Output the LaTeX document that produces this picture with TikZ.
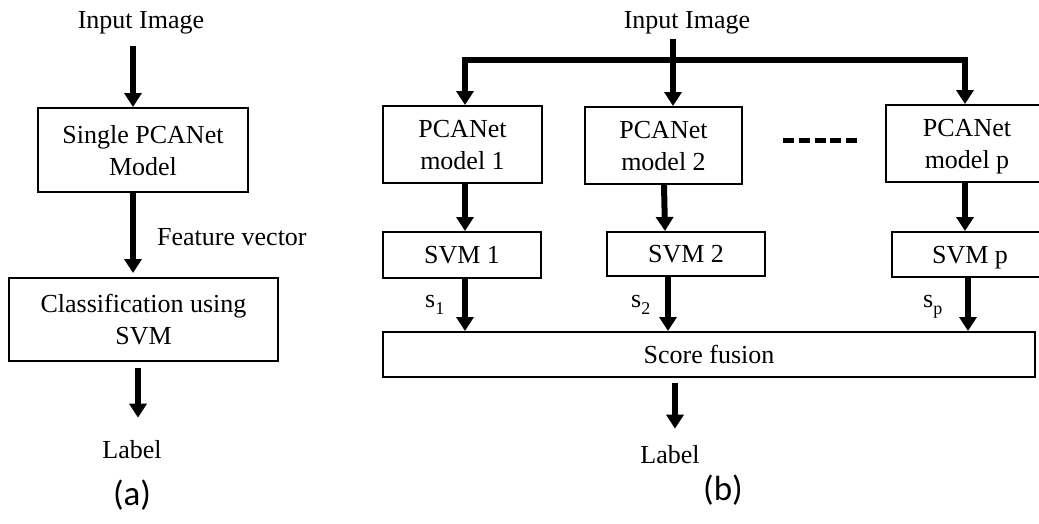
\documentclass[tikz,border=0pt]{standalone}
\usepackage{fontspec}
\setmainfont{Liberation Serif}
\newfontfamily\capfont{Carlito}
\usetikzlibrary{arrows.meta}
\newcommand{\subsc}[1]{\raisebox{-7pt}{\fontsize{18}{18}\selectfont #1}}
\begin{document}
\begin{tikzpicture}[x=1pt,y=-1pt,
  txt/.style={inner sep=0pt, font=\fontsize{26}{32}\selectfont},
  box/.style={draw, line width=2pt, inner sep=0pt, align=center, text depth=0pt, font=\fontsize{26}{32}\selectfont},
  arr/.style={line width=6pt, -{Triangle[length=14pt,width=17pt]}},
  captxt/.style={inner sep=0pt, font=\capfont\fontsize{35}{40}\selectfont}]
\useasboundingbox (0,0) rectangle (1039,523);
\clip (0,0) rectangle (1039,523);
% ---------- (a)
\node[txt] (ina) at (141,23) {Input Image};
\node[box, minimum width=210pt, minimum height=84pt] (a1) at (143,150) {Single PCANet\\Model};
\node[box, minimum width=269pt, minimum height=83pt] (a2) at (143.5,319.5) {Classification using\\SVM};
\node[txt, anchor=west] (feat) at (157,237) {Feature vector};
\node[txt] (laba) at (132,450) {Label};
\node[captxt] (capa) at (132,495) {(a)};
\draw[arr] ([xshift=-8pt,yshift=-11pt]ina.south) -- ([xshift=-10pt]a1.north);
\draw[arr] ([xshift=-10pt]a1.south) -- ([xshift=-10.5pt,yshift=4pt]a2.north);
\draw[arr] ([xshift=-5.5pt,yshift=-6pt]a2.south) -- ([xshift=6pt,yshift=23pt]laba.north);
% ---------- (b)
\node[txt] (inb) at (687,23) {Input Image};
\node[box, minimum width=159pt, minimum height=77pt] (b1) at (462.5,144.5) {PCANet\\model 1};
\node[box, minimum width=157pt, minimum height=77pt] (b2) at (663.5,145.5) {PCANet\\model 2};
\node[box, minimum width=162pt, minimum height=77pt] (bp) at (967,143.5) {PCANet\\model p};
\node[box, minimum width=158pt, minimum height=46pt] (s1box) at (462,255) {SVM 1};
\node[box, minimum width=158pt, minimum height=44pt] (s2box) at (686,254) {SVM 2};
\node[box, minimum width=156pt, minimum height=45pt] (spbox) at (970,254.5) {SVM p};
\node[box, minimum width=652pt, minimum height=45pt] (fus) at (709,354.5) {Score fusion};
\node[txt] (labb) at (670,455) {Label};
\node[captxt] (capb) at (723,490) {(b)};
\node[txt, anchor=base west] (sc1) at (425,307) {s\subsc{1}};
\node[txt, anchor=base west] (sc2) at (631,307) {s\subsc{2}};
\node[txt, anchor=base west] (scp) at (923,307) {s\subsc{p}};
\coordinate (barL) at (465,60);
\coordinate (barR) at (965,60);
\coordinate (dotsL) at (783,140);
\coordinate (dotsR) at (857,140);
\draw[line width=6pt, line cap=rect] (barL) -- (barR);
\draw[arr] (barL) -- (barL |- b1.north);
\draw[arr] (barR) -- (barR |- bp.north);
\draw[arr] ([xshift=-14pt,yshift=-4pt]inb.south) -- ([xshift=9.5pt]b2.north);
\draw[line width=5pt, dash pattern=on 11pt off 4.75pt] (dotsL) -- (dotsR);
\draw[arr] ([xshift=2.5pt]b1.south) -- ([xshift=3pt]s1box.north);
\draw[arr] ([xshift=0.5pt]b2.south) -- ([xshift=-21pt]s2box.north);
\draw[arr] ([xshift=-2pt]bp.south) -- ([xshift=-5pt]spbox.north);
\draw[arr] ([xshift=3pt]s1box.south) -- ([xshift=3pt]s1box.south |- fus.north);
\draw[arr] ([xshift=-18pt]s2box.south) -- ([xshift=-18pt]s2box.south |- fus.north);
\draw[arr] ([xshift=-2pt]spbox.south) -- ([xshift=-2pt]spbox.south |- fus.north);
\draw[arr] ([xshift=-34pt,yshift=-5pt]fus.south) -- ([xshift=5pt,yshift=17pt]labb.north);
\end{tikzpicture}
\end{document}
